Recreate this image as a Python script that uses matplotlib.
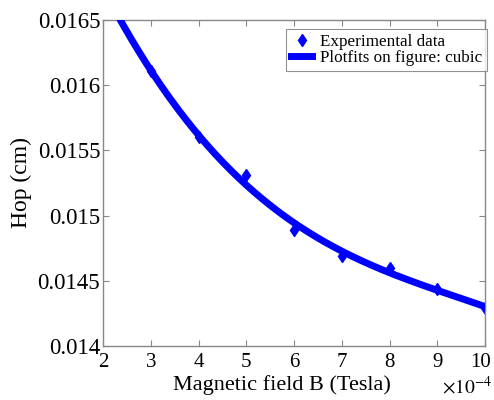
import numpy as np
import matplotlib
matplotlib.use("Agg")
from matplotlib import pyplot as plt
from matplotlib.transforms import ScaledTranslation

# magnetic field (x 1e-4 Tesla) and measured hop (cm)
field = [3, 4, 5, 6, 7, 8, 9, 10]
hop = [0.01611, 0.01560, 0.01531, 0.01489, 0.01469, 0.01460, 0.01444, 0.01429]

plt.rcParams['font.family'] = ['Liberation Serif', 'DejaVu Serif']
plt.rcParams['mathtext.fontset'] = 'stix'

fig = plt.figure(figsize=(4.94, 4.00), dpi=100)
ax = fig.add_axes([0.2085, 0.135, 0.7733, 0.815])

# cubic fit, as in the figure's basic fitting tool
coef = np.polyfit(field, hop, 3)
xs = np.linspace(2, 10, 300)
ax.plot(field, hop, 'd', color='#0000ff', markersize=6, label='Experimental data', zorder=2)
ax.plot(xs, np.polyval(coef, xs), '-', color='#0000ff', linewidth=5,
        label='Plotfits on figure: cubic', zorder=3)

ax.set_xlim(2, 10)
ax.set_ylim(0.014, 0.0165)
ax.set_xticks(range(2, 11))
ax.set_yticks([0.014, 0.0145, 0.015, 0.0155, 0.016, 0.0165])
ax.set_yticklabels(['0.014', '0.0145', '0.015', '0.0155', '0.016', '0.0165'])
ax.tick_params(direction='in', top=True, right=True, length=4, width=0.8,
               color='#888888')
ax.tick_params(axis='y', pad=2, labelsize=16.5)
ax.tick_params(axis='x', pad=5, labelsize=15)
for sp in ax.spines.values():
    sp.set_color('#888888')
    sp.set_linewidth(1.0)

# nudge the "10" label a little so it stays inside the picture
last = ax.xaxis.get_major_ticks()[-1].label1
last.set_transform(last.get_transform() + ScaledTranslation(-4 / 100, 0, fig.dpi_scale_trans))

ax.set_xlabel('Magnetic field B (Tesla)', fontsize=16, labelpad=0)
ax.xaxis.set_label_coords(0.469, -0.088, transform=ax.transAxes)
ax.xaxis.label.set_va('top')
ax.set_ylabel('Hop (cm)', fontsize=17, labelpad=4)
ax.text(1.018, -0.092, r'$\times10^{-4}$', transform=ax.transAxes, ha='right',
        va='top', fontsize=14)

leg = ax.legend(loc='upper right', bbox_to_anchor=(1.005, 0.973), fontsize=12.3,
                frameon=True, fancybox=False, borderaxespad=0, borderpad=0.3,
                handlelength=1.2, handletextpad=0.45, labelspacing=0.0)
leg.get_frame().set_edgecolor('#777777')
leg.get_frame().set_linewidth(0.8)

plt.savefig('out.png', dpi=100)
plt.close()
